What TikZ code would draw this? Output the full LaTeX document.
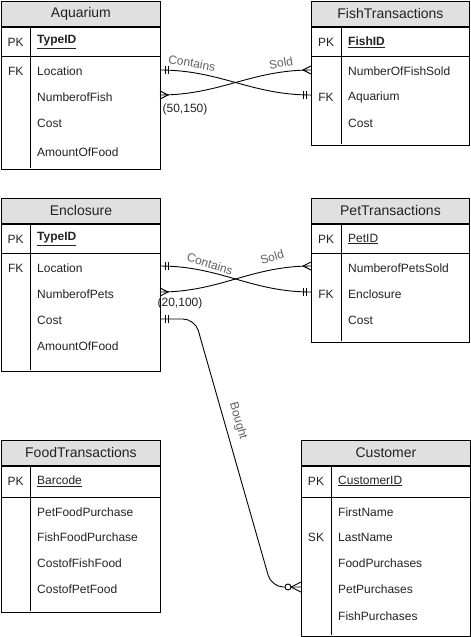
\documentclass[tikz,border=0pt]{standalone}
\usepackage{fontspec}
\setmainfont{Liberation Sans}
\definecolor{hdrgray}{HTML}{E0E0E0}
\definecolor{ink}{HTML}{222222}
\tikzset{
  hdr/.style={draw=black, fill=hdrgray, line width=0.9pt, anchor=north west, inner sep=0pt, font=\fontsize{14}{16}\selectfont, text=ink},
  tbody/.style={draw=black, line width=0.9pt, anchor=north west, inner sep=0pt},
  tline/.style={draw=black, line width=0.9pt},
  fld/.style={anchor=west, inner sep=0pt, font=\fontsize{12}{14}\selectfont, text=ink},
  keyc/.style={anchor=center, inner sep=0pt, font=\fontsize{12}{14}\selectfont, text=ink},
  conn/.style={draw=black, line width=0.9pt},
  lbl/.style={inner sep=0pt, font=\fontsize{12}{14}\selectfont, text=black!62},
  card/.style={inner sep=0pt, font=\fontsize{12}{14}\selectfont, text=ink},
  ermone/.pic={\draw[conn] (5,-4) -- (5,4) (8,-4) -- (8,4);},
  ermany/.pic={\draw[conn] (0,-4) -- (8,0) -- (0,4);},
  erzmany/.pic={\draw[conn] (0,-5) -- (10,0) -- (0,5); \draw[conn, fill=white] (13,0) circle[radius=3];}
}
\begin{document}
\begin{tikzpicture}[x=1pt,y=-1pt]
\useasboundingbox (0,0) rectangle (471,637);

% ---------- Aquarium ----------
\node[hdr, minimum width=159pt, minimum height=25pt] (aq) at (1,1) {Aquarium};
\node[tbody, minimum width=159pt, minimum height=142pt] (aqb) at (aq.south west) {};
\draw[tline] (1,56) -- (160,56);
\draw[tline] (30.5,26) -- (30.5,168);
\node[keyc] (aqpk) at (15.75,42) {PK};
\node[fld] (aqid) at (37,42) {\underline{\textbf{TypeID}}};
\node[keyc] (aqfk) at (15.75,71) {FK};
\node[fld] (aqf1) at (37,71) {Location};
\node[fld] (aqf2) at (37,97) {NumberofFish};
\node[fld] (aqf3) at (37,123) {Cost};
\node[fld] (aqf4) at (37,152) {AmountOfFood};

% ---------- FishTransactions ----------
\node[hdr, minimum width=158pt, minimum height=25pt] (ft) at (311,1) {FishTransactions};
\node[tbody, minimum width=158pt, minimum height=118pt] (ftb) at (ft.south west) {};
\draw[tline] (311,56) -- (469,56);
\draw[tline] (341,26) -- (341,144);
\node[keyc] (ftpk) at (326,42) {PK};
\node[fld] (ftid) at (348,42) {\underline{\textbf{FishID}}};
\node[fld] (ftf1) at (348,71) {NumberOfFishSold};
\node[keyc] (ftfk) at (326,97) {FK};
\node[fld] (ftf2) at (348,97) {Aquarium};
\node[fld] (ftf3) at (348,123) {Cost};

% ---------- Enclosure ----------
\node[hdr, minimum width=159pt, minimum height=25pt] (en) at (1,198) {Enclosure};
\node[tbody, minimum width=159pt, minimum height=147pt] (enb) at (en.south west) {};
\draw[tline] (1,253) -- (160,253);
\draw[tline] (30.5,223) -- (30.5,370);
\node[keyc] (enpk) at (15.75,239) {PK};
\node[fld] (enid) at (37,239) {\underline{\textbf{TypeID}}};
\node[keyc] (enfk) at (15.75,268) {FK};
\node[fld] (enf1) at (37,268) {Location};
\node[fld] (enf2) at (37,294) {NumberofPets};
\node[fld] (enf3) at (37,320) {Cost};
\node[fld] (enf4) at (37,346) {AmountOfFood};

% ---------- PetTransactions ----------
\node[hdr, minimum width=158pt, minimum height=25pt] (pt) at (311,198) {PetTransactions};
\node[tbody, minimum width=158pt, minimum height=118pt] (ptb) at (pt.south west) {};
\draw[tline] (311,253) -- (469,253);
\draw[tline] (341,223) -- (341,341);
\node[keyc] (ptpk) at (326,239) {PK};
\node[fld] (ptid) at (348,239) {\underline{PetID}};
\node[fld] (ptf1) at (348,268) {NumberofPetsSold};
\node[keyc] (ptfk) at (326,294) {FK};
\node[fld] (ptf2) at (348,294) {Enclosure};
\node[fld] (ptf3) at (348,320) {Cost};

% ---------- FoodTransactions ----------
\node[hdr, minimum width=159pt, minimum height=25pt] (fo) at (1,440) {FoodTransactions};
\node[tbody, minimum width=159pt, minimum height=146pt] (fob) at (fo.south west) {};
\draw[tline] (1,497) -- (160,497);
\draw[tline] (30.5,465) -- (30.5,611);
\node[keyc] (fopk) at (15.75,481) {PK};
\node[fld] (foid) at (37,481) {\underline{Barcode}};
\node[fld] (fof1) at (37,512) {PetFoodPurchase};
\node[fld] (fof2) at (37,537) {FishFoodPurchase};
\node[fld] (fof3) at (37,563) {CostofFishFood};
\node[fld] (fof4) at (37,589) {CostofPetFood};

% ---------- Customer ----------
\node[hdr, minimum width=169pt, minimum height=25pt] (cu) at (301,440) {Customer};
\node[tbody, minimum width=169pt, minimum height=170pt] (cub) at (cu.south west) {};
\draw[tline] (301,497) -- (470,497);
\draw[tline] (331,465) -- (331,635);
\node[keyc] (cupk) at (316,481) {PK};
\node[fld] (cuid) at (338,481) {\underline{CustomerID}};
\node[fld] (cuf1) at (338,512) {FirstName};
\node[keyc] (cusk) at (316,537) {SK};
\node[fld] (cuf2) at (338,537) {LastName};
\node[fld] (cuf3) at (338,563) {FoodPurchases};
\node[fld] (cuf4) at (338,589) {PetPurchases};
\node[fld] (cuf5) at (338,616) {FishPurchases};

% ---------- ports ----------
\coordinate (aqloc) at (160,70);
\coordinate (aqnum) at (160,95);
\coordinate (ftnum) at (311,70);
\coordinate (ftaq)  at (311,95);
\coordinate (enloc) at (160,266);
\coordinate (ennum) at (160,292);
\coordinate (ptnum) at (311,266);
\coordinate (pten)  at (311,292);
\coordinate (encost) at (160,319);
\coordinate (cupet)  at (301,587);
\coordinate (bk1) at (195,319);
\coordinate (bk2) at (271.5,587);

% ---------- Aquarium <-> FishTransactions ----------
\draw[conn] (aqloc) .. controls (220,70) and (251,95) .. (ftaq);
\draw[conn] (aqnum) .. controls (220,95) and (251,70) .. (ftnum);
\pic at (aqloc) {ermone};
\pic[xscale=-1] at (ftaq) {ermone};
\pic at (aqnum) {ermany};
\pic[xscale=-1] at (ftnum) {ermany};
\node[lbl, rotate=-10] (lc1) at (192,63) {Contains};
\node[lbl, rotate=9] (ls1) at (281,63) {Sold};
\node[card] (c1) at (185,109) {(50,150)};

% ---------- Enclosure <-> PetTransactions ----------
\draw[conn] (enloc) .. controls (220,266) and (251,292) .. (pten);
\draw[conn] (ennum) .. controls (220,292) and (251,266) .. (ptnum);
\pic at (enloc) {ermone};
\pic[xscale=-1] at (pten) {ermone};
\pic at (ennum) {ermany};
\pic[xscale=-1] at (ptnum) {ermany};
\node[lbl, rotate=-18] (lc2) at (210,264) {Contains};
\node[lbl, rotate=17] (ls2) at (272,257) {Sold};
\node[card] (c2) at (180,303) {(20,100)};

% ---------- Enclosure -> Customer ----------
\draw[conn, rounded corners=12pt] (encost) -- (bk1) -- (bk2) -- (cupet);
\pic at (encost) {ermone};
\pic[xscale=-1] at (cupet) {erzmany};
\node[lbl, rotate=-74] (lb) at (238,421) {Bought};
\end{tikzpicture}
\end{document}
